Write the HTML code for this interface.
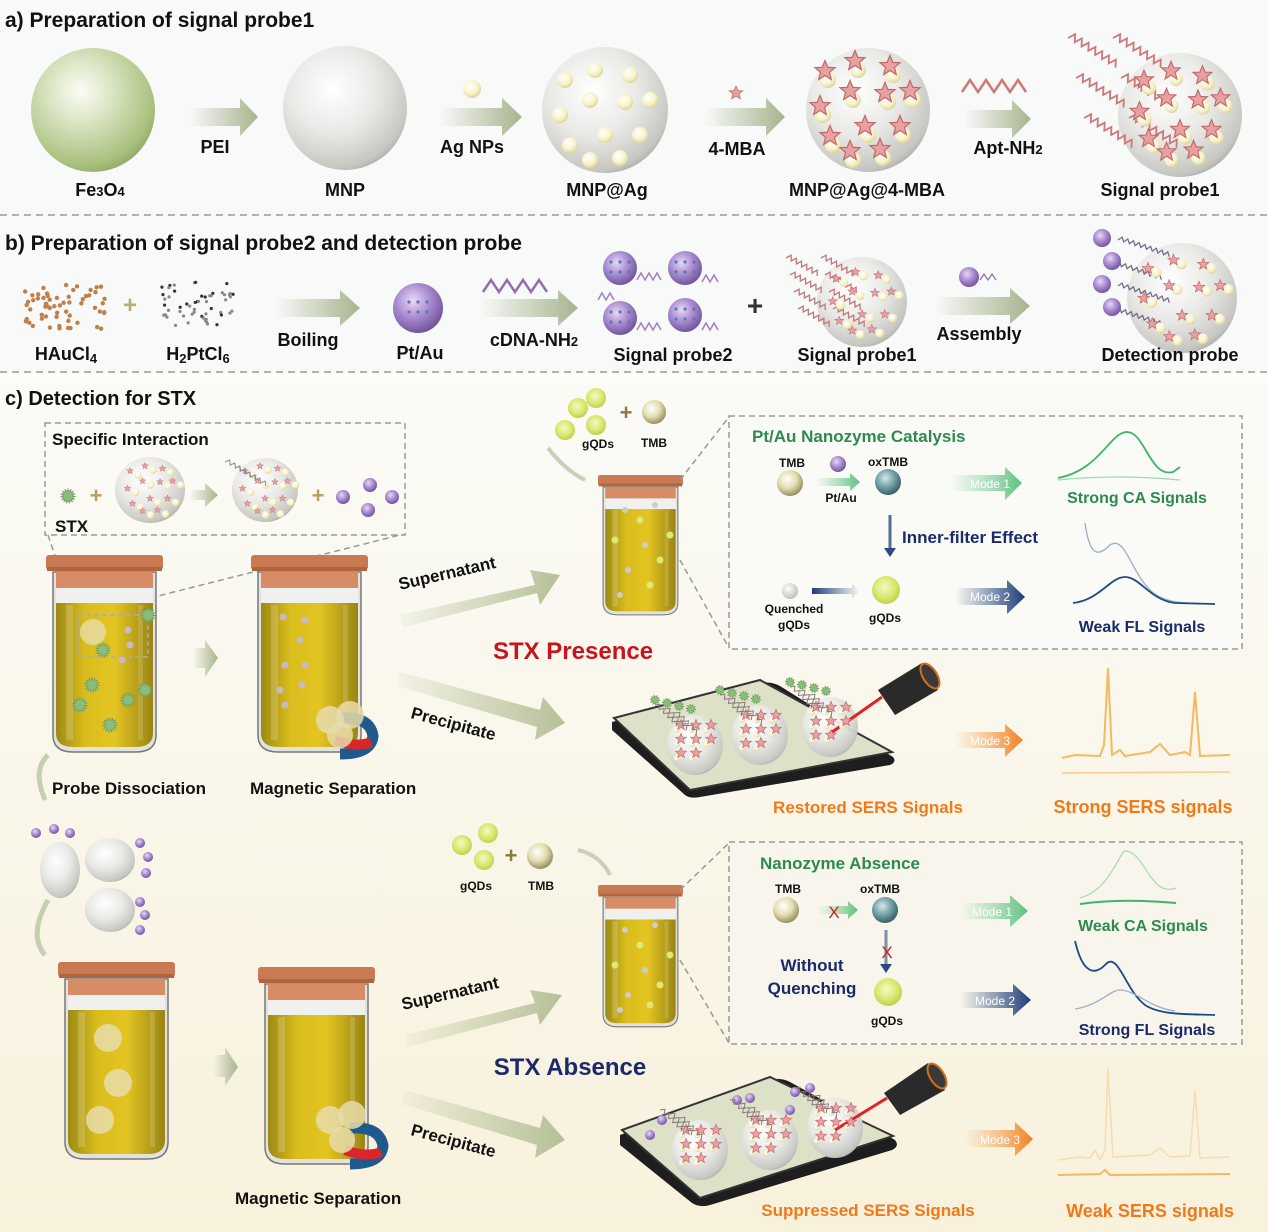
<!DOCTYPE html>
<html><head><meta charset="utf-8"><style>
html,body{margin:0;padding:0;background:#fff;}
svg{display:block;font-family:"Liberation Sans",Arial,sans-serif;font-weight:bold;}
</style></head><body>
<svg id="s" width="1268" height="1232" viewBox="0 0 1268 1232" xmlns="http://www.w3.org/2000/svg">
<defs>
<radialGradient id="gGreen" cx="0.4" cy="0.35" r="0.7"><stop offset="0" stop-color="#fbfdf5"/><stop offset="0.35" stop-color="#dbe6c5"/><stop offset="0.85" stop-color="#a9c07e"/><stop offset="1" stop-color="#8ca862"/></radialGradient>
<radialGradient id="gWhite" cx="0.4" cy="0.35" r="0.7"><stop offset="0" stop-color="#ffffff"/><stop offset="0.5" stop-color="#e9e9e6"/><stop offset="0.9" stop-color="#c7c7c2"/><stop offset="1" stop-color="#aaa"/></radialGradient>
<radialGradient id="gPurple" cx="0.4" cy="0.35" r="0.7"><stop offset="0" stop-color="#e8d8f5"/><stop offset="0.5" stop-color="#a88ad0"/><stop offset="1" stop-color="#6a4e96"/></radialGradient>
<radialGradient id="gDot" cx="0.4" cy="0.35" r="0.7"><stop offset="0" stop-color="#ffffff"/><stop offset="0.6" stop-color="#f8f2c8"/><stop offset="1" stop-color="#d8cf96"/></radialGradient>
<radialGradient id="gQD" cx="0.45" cy="0.4" r="0.6"><stop offset="0" stop-color="#f4f9c0"/><stop offset="0.6" stop-color="#dbe873"/><stop offset="1" stop-color="#c0d04c"/></radialGradient>
<radialGradient id="gTMB" cx="0.4" cy="0.35" r="0.7"><stop offset="0" stop-color="#ffffff"/><stop offset="0.5" stop-color="#e4deb0"/><stop offset="1" stop-color="#8a8456"/></radialGradient>
<radialGradient id="gOx" cx="0.4" cy="0.35" r="0.7"><stop offset="0" stop-color="#d8e8ea"/><stop offset="0.5" stop-color="#74a0a8"/><stop offset="1" stop-color="#2f5860"/></radialGradient>
<radialGradient id="gGray" cx="0.4" cy="0.35" r="0.7"><stop offset="0" stop-color="#fff"/><stop offset="1" stop-color="#bbb"/></radialGradient>
<linearGradient id="gLiq" x1="0" x2="1"><stop offset="0" stop-color="#9c8a14"/><stop offset="0.3" stop-color="#d9bd1d"/><stop offset="0.6" stop-color="#e3c522"/><stop offset="1" stop-color="#9a8514"/></linearGradient>
<linearGradient id="gArr" x1="0" x2="1"><stop offset="0" stop-color="#a7b48e" stop-opacity="0"/><stop offset="1" stop-color="#a7b48e"/></linearGradient>
<linearGradient id="gArrBig" x1="0" x2="1"><stop offset="0" stop-color="#b9c39c" stop-opacity="0.1"/><stop offset="1" stop-color="#b5c097"/></linearGradient>
<linearGradient id="gM1" x1="0" x2="1"><stop offset="0" stop-color="#7fd29a" stop-opacity="0"/><stop offset="1" stop-color="#5fc080"/></linearGradient>
<linearGradient id="gM2" x1="0" x2="1"><stop offset="0" stop-color="#2a4a80" stop-opacity="0"/><stop offset="1" stop-color="#1f3c78"/></linearGradient>
<linearGradient id="gM3" x1="0" x2="1"><stop offset="0" stop-color="#f8a050" stop-opacity="0"/><stop offset="1" stop-color="#f08020"/></linearGradient>
<linearGradient id="gBg" x1="0" y1="0" x2="0" y2="1"><stop offset="0" stop-color="#fbfbf7"/><stop offset="1" stop-color="#f8f1dc"/></linearGradient>
<g id="star"><path d="M0,-7 L1.9,-2.4 L6.7,-2.2 L3,0.9 L4.2,5.7 L0,3 L-4.2,5.7 L-3,0.9 L-6.7,-2.2 L-1.9,-2.4Z" fill="#e8a0a0" stroke="#c06868" stroke-width="0.8"/></g>
<g id="jar">
<path d="M7 17 L7 180 Q7 197 27 197 L90 197 Q110 197 110 180 L110 17 Z" fill="#e2e2de" stroke="#777" stroke-width="1.5"/>
<rect x="10" y="17" width="97" height="16" fill="#d88c66"/>
<rect x="10" y="33" width="97" height="15" fill="#f0f0ee"/>
<path d="M10 48 L107 48 L107 178 Q107 192 90 192 L27 192 Q10 192 10 178 Z" fill="url(#gLiq)"/>
<rect x="20" y="50" width="7" height="135" fill="#fff" opacity="0.18"/>
<rect x="92" y="50" width="5" height="135" fill="#fff" opacity="0.15"/>
<rect x="0" y="0" width="117" height="15" rx="3" fill="#c97a52"/>
<rect x="1" y="12" width="115" height="4" fill="#b06440"/>
</g>
<g id="magnet"><path d="M-5 0 Q25 -2 28 18 Q26 36 -5 36" fill="none" stroke="#1e5a8e" stroke-width="11"/><path d="M-10 22 Q12 30 26 24" fill="none" stroke="#d8262a" stroke-width="10"/></g>
</defs>

<rect x="0" y="0" width="1268" height="372" fill="#f8f9f9"/>
<rect x="0" y="372" width="1268" height="860" fill="url(#gBg)"/>
<line x1="0" y1="215" x2="1268" y2="215" stroke="#999" stroke-width="1.5" stroke-dasharray="7,5"/>
<line x1="0" y1="372" x2="1268" y2="372" stroke="#999" stroke-width="1.5" stroke-dasharray="7,5"/>

<!-- Section a -->
<text x="5" y="27" font-size="21" fill="#111">a) Preparation of signal probe1</text>
<ellipse cx="93" cy="110" rx="62" ry="62" fill="url(#gGreen)"/>
<ellipse cx="345" cy="108" rx="62" ry="62" fill="url(#gWhite)"/>
<ellipse cx="605" cy="110" rx="63" ry="63" fill="url(#gWhite)"/>
<ellipse cx="868" cy="110" rx="62" ry="62" fill="url(#gWhite)"/>
<ellipse cx="1180" cy="115" rx="62" ry="62" fill="url(#gWhite)"/>
<g>
<path d="M190 108 L240 108 L240 98 L258 117 L240 136 L240 126 L190 126Z" fill="url(#gArr)"/>
<path d="M440 108 L502 108 L502 98 L522 117 L502 136 L502 126 L440 126Z" fill="url(#gArr)"/>
<path d="M705 108 L766 108 L766 98 L785 117 L766 136 L766 126 L705 126Z" fill="url(#gArr)"/>
<path d="M965 110 L1012 110 L1012 100 L1031 119 L1012 138 L1012 128 L965 128Z" fill="url(#gArr)"/>
</g>
<circle cx="472" cy="89" r="9" fill="url(#gDot)"/>
<use href="#star" x="736" y="93"/>
<path d="M962 92 l8 -12 l8 12 l8 -12 l8 12 l8 -12 l8 12 l8 -12 l8 12" fill="none" stroke="#d07878" stroke-width="2.5"/>
<g font-size="18" fill="#111" text-anchor="middle">
<text x="215" y="153">PEI</text><text x="472" y="153">Ag NPs</text><text x="737" y="155">4-MBA</text><text x="1008" y="154">Apt-NH<tspan font-size="13">2</tspan></text>
<text x="100" y="196">Fe<tspan font-size="13">3</tspan>O<tspan font-size="13">4</tspan></text><text x="345" y="196">MNP</text><text x="607" y="196">MNP@Ag</text><text x="867" y="196">MNP@Ag@4-MBA</text><text x="1160" y="196">Signal probe1</text>
</g>

<!-- Section b -->
<text x="5" y="250" font-size="21" fill="#111">b) Preparation of signal probe2 and detection probe</text>
<text x="130" y="313" font-size="24" fill="#b5b07a" text-anchor="middle">+</text>
<path d="M275 299 L340 299 L340 290 L360 308 L340 326 L340 317 L275 317Z" fill="url(#gArr)"/>
<circle cx="418" cy="308" r="25" fill="url(#gPurple)"/>
<path d="M483 292 l8 -12 l8 12 l8 -12 l8 12 l8 -12 l8 12 l8 -12 l8 12" fill="none" stroke="#9070b0" stroke-width="2.5"/>
<path d="M480 299 L558 299 L558 290 L578 308 L558 326 L558 317 L480 317Z" fill="url(#gArr)"/>
<circle cx="620" cy="268" r="17" fill="url(#gPurple)"/><circle cx="685" cy="268" r="17" fill="url(#gPurple)"/>
<circle cx="620" cy="318" r="17" fill="url(#gPurple)"/><circle cx="685" cy="315" r="17" fill="url(#gPurple)"/>
<g fill="none" stroke="#a080c0" stroke-width="1.5">
<path d="M637 280 l4 -7 l4 7 l4 -7 l4 7 l4 -7 l4 7"/><path d="M702 282 l4 -7 l4 7 l4 -7 l4 7"/><path d="M637 330 l4 -7 l4 7 l4 -7 l4 7 l4 -7 l4 7"/><path d="M702 330 l4 -7 l4 7 l4 -7 l4 7"/><path d="M598 300 l4 -7 l4 7 l4 -7 l4 7"/>
</g>
<text x="755" y="315" font-size="28" fill="#333" text-anchor="middle">+</text>
<ellipse cx="862" cy="302" rx="45" ry="45" fill="url(#gWhite)"/>
<circle cx="969" cy="277" r="10" fill="url(#gPurple)"/>
<path d="M980 280 l4 -6 l4 6 l4 -6 l4 6" fill="none" stroke="#9070b0" stroke-width="1.3"/>
<path d="M935 297 L1010 297 L1010 288 L1030 306 L1010 324 L1010 315 L935 315Z" fill="url(#gArr)"/>
<ellipse cx="1182" cy="298" rx="55" ry="55" fill="url(#gWhite)"/>
<g font-size="18" fill="#111" text-anchor="middle">
<text x="66" y="360">HAuCl<tspan font-size="13" dy="3">4</tspan></text>
<text x="198" y="360">H<tspan font-size="13" dy="3">2</tspan><tspan dy="-3">PtCl</tspan><tspan font-size="13" dy="3">6</tspan></text>
<text x="308" y="346">Boiling</text><text x="420" y="359">Pt/Au</text><text x="534" y="346">cDNA-NH<tspan font-size="13">2</tspan></text>
<text x="673" y="361">Signal probe2</text><text x="857" y="361">Signal probe1</text><text x="979" y="340">Assembly</text><text x="1170" y="361">Detection probe</text>
</g>

<!-- Section c -->
<text x="5" y="405" font-size="20" fill="#111">c) Detection for STX</text>
<rect x="45" y="423" width="360" height="112" fill="none" stroke="#999" stroke-width="1.5" stroke-dasharray="6,4"/>
<text x="52" y="445" font-size="17" fill="#111">Specific Interaction</text>
<text x="55" y="532" font-size="17" fill="#111">STX</text>
<text x="96" y="503" font-size="22" fill="#b5a060" text-anchor="middle">+</text>
<ellipse cx="150" cy="490" rx="35" ry="33" fill="url(#gWhite)"/>
<path d="M190 490 L205 490 L205 483 L218 495 L205 507 L205 500 L190 500Z" fill="url(#gArr)"/>
<ellipse cx="265" cy="490" rx="33" ry="32" fill="url(#gWhite)"/>
<text x="318" y="503" font-size="22" fill="#b5a060" text-anchor="middle">+</text>
<circle cx="343" cy="497" r="7" fill="url(#gPurple)"/><circle cx="370" cy="485" r="7" fill="url(#gPurple)"/><circle cx="368" cy="510" r="7" fill="url(#gPurple)"/><circle cx="392" cy="497" r="7" fill="url(#gPurple)"/>
<line x1="150" y1="598" x2="400" y2="535" stroke="#999" stroke-width="1.5" stroke-dasharray="6,4"/>
<line x1="48" y1="535" x2="75" y2="615" stroke="#999" stroke-width="1.5" stroke-dasharray="6,4"/>

<!-- jars -->
<use href="#jar" x="46" y="555"/>
<use href="#jar" x="251" y="555"/>
<rect x="78" y="615" width="70" height="42" fill="none" stroke="#aab" stroke-width="1.5" stroke-dasharray="5,3"/>
<circle cx="93" cy="632" r="13" fill="#e8dcaa" opacity="0.8"/>
<use href="#magnet" x="345" y="718"/>
<circle cx="330" cy="720" r="14" fill="#e8dcaa" opacity="0.85"/><circle cx="350" cy="715" r="14" fill="#e8dcaa" opacity="0.85"/><circle cx="340" cy="735" r="13" fill="#e8dcaa" opacity="0.85"/>
<path d="M193 648 L205 648 L205 640 L218 658 L205 677 L205 668 L193 668Z" fill="url(#gArr)"/>
<path d="M45 800 Q32 770 48 755" fill="none" stroke="#c5d0b0" stroke-width="5"/>
<text x="52" y="794" font-size="17" fill="#111">Probe Dissociation</text>
<text x="250" y="794" font-size="17" fill="#111">Magnetic Separation</text>

<path d="M400 615 L535 585 L530 570 L560 575 L540 605 L537 593 L403 627Z" fill="url(#gArrBig)"/>
<text x="400" y="590" font-size="17" fill="#111" transform="rotate(-13 400 590)">Supernatant</text>
<path d="M400 672 L540 710 L543 697 L565 723 L535 740 L537 727 L397 686Z" fill="url(#gArrBig)"/>
<text x="410" y="718" font-size="17" fill="#111" transform="rotate(15 410 718)">Precipitate</text>
<text x="573" y="659" font-size="24" fill="#c8141e" text-anchor="middle">STX Presence</text>

<circle cx="578" cy="408" r="10" fill="url(#gQD)"/><circle cx="596" cy="398" r="10" fill="url(#gQD)"/><circle cx="565" cy="430" r="10" fill="url(#gQD)"/><circle cx="596" cy="425" r="10" fill="url(#gQD)"/>
<text x="626" y="420" font-size="22" fill="#8a7a40" text-anchor="middle">+</text>
<circle cx="654" cy="412" r="12" fill="url(#gTMB)"/>
<text x="598" y="448" font-size="12" fill="#111" text-anchor="middle">gQDs</text><text x="654" y="447" font-size="12" fill="#111" text-anchor="middle">TMB</text>
<path d="M548 448 Q565 470 585 480" fill="none" stroke="#c8d0b8" stroke-width="4"/>
<use href="#jar" transform="translate(598 475) scale(0.726 0.71)"/>
<line x1="680" y1="480" x2="729" y2="417" stroke="#999" stroke-width="1.5" stroke-dasharray="6,4"/>
<line x1="680" y1="560" x2="729" y2="648" stroke="#999" stroke-width="1.5" stroke-dasharray="6,4"/>

<!-- Top panel -->
<rect x="729" y="416" width="513" height="233" fill="#fafaf6" stroke="#999" stroke-width="1.5" stroke-dasharray="6,4"/>
<text x="752" y="442" font-size="17" fill="#2e8a50">Pt/Au Nanozyme Catalysis</text>
<text x="792" y="467" font-size="12" fill="#111" text-anchor="middle">TMB</text>
<circle cx="790" cy="483" r="13" fill="url(#gTMB)"/>
<circle cx="838" cy="464" r="8" fill="url(#gPurple)"/>
<path d="M815 478 L850 478 L850 473 L860 482 L850 491 L850 486 L815 486Z" fill="url(#gM1)"/>
<text x="841" y="502" font-size="12" fill="#111" text-anchor="middle">Pt/Au</text>
<text x="888" y="466" font-size="12" fill="#111" text-anchor="middle">oxTMB</text>
<circle cx="888" cy="482" r="13" fill="url(#gOx)"/>
<line x1="890" y1="515" x2="890" y2="550" stroke="#2a4a80" stroke-width="3" opacity="0.8"/><path d="M884 548 L896 548 L890 557Z" fill="#2a4a80"/>
<text x="902" y="543" font-size="17" fill="#1a2a6a">Inner-filter Effect</text>
<circle cx="790" cy="591" r="8" fill="url(#gGray)"/>
<path d="M860 588 L820 588 L820 584 L812 591 L820 598 L820 594 L860 594Z" fill="url(#gM2)" transform="rotate(180 836 591)"/>
<text x="794" y="613" font-size="12" fill="#111" text-anchor="middle">Quenched</text><text x="794" y="629" font-size="12" fill="#111" text-anchor="middle">gQDs</text>
<circle cx="886" cy="590" r="14" fill="url(#gQD)"/>
<text x="885" y="622" font-size="12" fill="#111" text-anchor="middle">gQDs</text>
<path d="M950 475 L1005 475 L1005 467 L1022 483 L1005 500 L1005 491 L950 491Z" fill="url(#gM1)"/>
<text x="990" y="488" font-size="12" fill="#fff" font-weight="normal" text-anchor="middle">Mode 1</text>
<path d="M955 588 L1007 588 L1007 580 L1025 597 L1007 614 L1007 605 L955 605Z" fill="url(#gM2)"/>
<text x="990" y="601" font-size="12" fill="#fff" font-weight="normal" text-anchor="middle">Mode 2</text>
<path d="M1058 478 C1100 470 1110 432 1127 432 C1145 432 1150 478 1173 472 L1180 467" fill="none" stroke="#3cb46a" stroke-width="1.8"/>
<path d="M1058 480 Q1115 474 1180 480" fill="none" stroke="#9ed8b0" stroke-width="1.2"/>
<text x="1137" y="503" font-size="16" fill="#2e8a50" text-anchor="middle">Strong CA Signals</text>
<path d="M1085 523 C1090 560 1100 555 1110 545 C1125 535 1130 570 1150 590 C1165 605 1190 603 1215 604" fill="none" stroke="#9ab0c8" stroke-width="1.3"/>
<path d="M1073 603 C1100 600 1110 577 1125 577 C1140 577 1150 600 1175 603 L1215 604" fill="none" stroke="#1f4a88" stroke-width="1.8"/>
<text x="1142" y="632" font-size="16" fill="#1a2a6a" text-anchor="middle">Weak FL Signals</text>

<!-- slide top -->
<path d="M612 722 L760 683 Q770 681 780 686 L893 757 Q897 762 890 765 L700 797 Q690 799 685 795 L612 730 Z" fill="#1e1e1e"/>
<path d="M614 718 L760 680 L892 752 L690 790 Z" fill="#dde1c8" stroke="#333" stroke-width="2"/>
<ellipse cx="695" cy="745" rx="28" ry="30" fill="url(#gWhite)" opacity="0.95"/>
<ellipse cx="760" cy="735" rx="28" ry="30" fill="url(#gWhite)" opacity="0.95"/>
<ellipse cx="830" cy="727" rx="28" ry="30" fill="url(#gWhite)" opacity="0.95"/>
<line x1="828" y1="735" x2="882" y2="697" stroke="#e52020" stroke-width="3"/>
<path d="M878 690 L922 663 L938 690 L895 715Z" fill="#2a2a2a"/><ellipse cx="930" cy="676" rx="7" ry="14" transform="rotate(-32 930 676)" fill="#3a3a3a" stroke="#d07020" stroke-width="2"/>
<path d="M955 732 L1005 732 L1005 724 L1023 740 L1005 757 L1005 748 L955 748Z" fill="url(#gM3)"/>
<text x="990" y="745" font-size="12" fill="#fff" font-weight="normal" text-anchor="middle">Mode 3</text>
<path d="M1062 758 L1075 755 L1100 756 L1104 745 L1108 668 L1112 755 L1120 750 L1125 756 L1150 752 L1160 744 L1170 755 L1185 752 L1190 755 L1195 692 L1200 756 L1230 755" fill="none" stroke="#f6b860" stroke-width="2"/>
<path d="M1062 773 L1230 772" fill="none" stroke="#f8cc90" stroke-width="1.5"/>
<text x="868" y="813" font-size="17" fill="#f07a1a" text-anchor="middle">Restored SERS Signals</text>
<text x="1143" y="813" font-size="18" fill="#f07a1a" text-anchor="middle">Strong SERS signals</text>

<!-- bottom left cluster -->
<ellipse cx="60" cy="870" rx="20" ry="28" fill="url(#gWhite)"/>
<ellipse cx="110" cy="860" rx="25" ry="22" fill="url(#gWhite)"/>
<ellipse cx="110" cy="910" rx="25" ry="22" fill="url(#gWhite)"/>
<g fill="url(#gPurple)"><circle cx="36" cy="833" r="5"/><circle cx="54" cy="829" r="5"/><circle cx="70" cy="833" r="5"/><circle cx="140" cy="843" r="5"/><circle cx="148" cy="857" r="5"/><circle cx="146" cy="873" r="5"/><circle cx="140" cy="902" r="5"/><circle cx="145" cy="915" r="5"/><circle cx="140" cy="930" r="5"/></g>
<path d="M48 900 Q28 935 45 955" fill="none" stroke="#c5d0b0" stroke-width="5"/>
<use href="#jar" x="58" y="962"/>
<use href="#jar" x="258" y="967"/>
<circle cx="108" cy="1038" r="14" fill="#e8dcaa" opacity="0.85"/><circle cx="118" cy="1083" r="14" fill="#e8dcaa" opacity="0.85"/><circle cx="100" cy="1120" r="14" fill="#e8dcaa" opacity="0.85"/>
<use href="#magnet" x="355" y="1128"/>
<circle cx="330" cy="1120" r="14" fill="#e8dcaa" opacity="0.85"/><circle cx="352" cy="1115" r="14" fill="#e8dcaa" opacity="0.85"/><circle cx="342" cy="1140" r="13" fill="#e8dcaa" opacity="0.85"/>
<path d="M213 1055 L225 1055 L225 1047 L238 1067 L225 1086 L225 1077 L213 1077Z" fill="url(#gArr)"/>
<text x="235" y="1204" font-size="17" fill="#111">Magnetic Separation</text>
<path d="M405 1035 L535 1003 L530 990 L562 995 L540 1025 L537 1013 L408 1047Z" fill="url(#gArrBig)"/>
<text x="403" y="1010" font-size="17" fill="#111" transform="rotate(-13 403 1010)">Supernatant</text>
<path d="M405 1090 L540 1128 L543 1115 L565 1140 L535 1158 L537 1145 L402 1104Z" fill="url(#gArrBig)"/>
<text x="410" y="1135" font-size="17" fill="#111" transform="rotate(15 410 1135)">Precipitate</text>
<text x="570" y="1075" font-size="24" fill="#1a2a6a" text-anchor="middle">STX Absence</text>

<circle cx="462" cy="845" r="10" fill="url(#gQD)"/><circle cx="488" cy="833" r="10" fill="url(#gQD)"/><circle cx="484" cy="860" r="10" fill="url(#gQD)"/>
<text x="511" y="863" font-size="22" fill="#8a7a40" text-anchor="middle">+</text>
<circle cx="540" cy="856" r="13" fill="url(#gTMB)"/>
<text x="476" y="890" font-size="12" fill="#111" text-anchor="middle">gQDs</text><text x="541" y="890" font-size="12" fill="#111" text-anchor="middle">TMB</text>
<path d="M578 850 Q600 855 610 875" fill="none" stroke="#c8d0b8" stroke-width="4"/>
<use href="#jar" transform="translate(598 885) scale(0.726 0.72)"/>
<line x1="680" y1="890" x2="729" y2="843" stroke="#999" stroke-width="1.5" stroke-dasharray="6,4"/>
<line x1="680" y1="960" x2="729" y2="1043" stroke="#999" stroke-width="1.5" stroke-dasharray="6,4"/>

<!-- bottom panel -->
<rect x="729" y="842" width="513" height="202" fill="#f8f6ec" stroke="#999" stroke-width="1.5" stroke-dasharray="6,4"/>
<text x="760" y="869" font-size="17" fill="#2e8a50">Nanozyme Absence</text>
<text x="788" y="893" font-size="12" fill="#111" text-anchor="middle">TMB</text>
<circle cx="786" cy="910" r="13" fill="url(#gTMB)"/>
<path d="M818 906 L848 906 L848 901 L858 910 L848 919 L848 914 L818 914Z" fill="url(#gM1)"/>
<text x="834" y="918" font-size="17" fill="#d02020" text-anchor="middle" font-weight="normal">X</text>
<text x="880" y="893" font-size="12" fill="#111" text-anchor="middle">oxTMB</text>
<circle cx="885" cy="910" r="13" fill="url(#gOx)"/>
<line x1="886" y1="930" x2="886" y2="966" stroke="#2a4a80" stroke-width="3" opacity="0.6"/><path d="M880 964 L892 964 L886 973Z" fill="#2a4a80"/>
<text x="887" y="958" font-size="17" fill="#d02020" text-anchor="middle" font-weight="normal">X</text>
<text x="812" y="971" font-size="17" fill="#1a2a6a" text-anchor="middle">Without</text>
<text x="812" y="994" font-size="17" fill="#1a2a6a" text-anchor="middle">Quenching</text>
<circle cx="888" cy="992" r="14" fill="url(#gQD)"/>
<text x="887" y="1025" font-size="12" fill="#111" text-anchor="middle">gQDs</text>
<path d="M960 903 L1010 903 L1010 895 L1028 911 L1010 927 L1010 919 L960 919Z" fill="url(#gM1)"/>
<text x="992" y="916" font-size="12" fill="#fff" font-weight="normal" text-anchor="middle">Mode 1</text>
<path d="M960 992 L1013 992 L1013 984 L1031 1000 L1013 1016 L1013 1008 L960 1008Z" fill="url(#gM2)"/>
<text x="995" y="1005" font-size="12" fill="#fff" font-weight="normal" text-anchor="middle">Mode 2</text>
<path d="M1080 898 C1110 890 1120 851 1125 851 C1145 851 1150 898 1176 888" fill="none" stroke="#a8dcb8" stroke-width="1.3"/>
<path d="M1080 904 Q1120 898 1176 903" fill="none" stroke="#3cb46a" stroke-width="2"/>
<text x="1143" y="931" font-size="16" fill="#2e8a50" text-anchor="middle">Weak CA Signals</text>
<path d="M1075 941 C1083 975 1095 975 1105 965 C1118 950 1125 990 1145 1005 C1160 1015 1185 1014 1215 1015" fill="none" stroke="#1f4a88" stroke-width="1.8"/>
<path d="M1075 1009 C1100 1005 1110 990 1120 990 C1135 990 1150 1008 1175 1011" fill="none" stroke="#9ab0c8" stroke-width="1.3"/>
<text x="1147" y="1035" font-size="16" fill="#1a2a6a" text-anchor="middle">Strong FL Signals</text>

<!-- bottom slide -->
<path d="M620 1135 L770 1080 Q780 1077 790 1082 L895 1140 Q900 1146 892 1150 L710 1205 Q700 1208 692 1203 L620 1145 Z" fill="#1e1e1e"/>
<path d="M622 1130 L770 1077 L893 1136 L700 1198 Z" fill="#dde1c8" stroke="#333" stroke-width="2"/>
<ellipse cx="700" cy="1150" rx="28" ry="30" fill="url(#gWhite)"/>
<ellipse cx="770" cy="1140" rx="28" ry="30" fill="url(#gWhite)"/>
<ellipse cx="835" cy="1128" rx="28" ry="30" fill="url(#gWhite)"/>
<g fill="url(#gPurple)"><circle cx="650" cy="1135" r="5"/><circle cx="662" cy="1120" r="5"/><circle cx="737" cy="1100" r="5"/><circle cx="750" cy="1098" r="5"/><circle cx="795" cy="1092" r="5"/><circle cx="810" cy="1088" r="5"/><circle cx="790" cy="1110" r="5"/></g>
<line x1="835" y1="1130" x2="887" y2="1098" stroke="#e52020" stroke-width="3"/>
<path d="M884 1093 L928 1063 L945 1090 L900 1115Z" fill="#2a2a2a"/><ellipse cx="937" cy="1076" rx="7" ry="14" transform="rotate(-32 937 1076)" fill="#3a3a3a" stroke="#d07020" stroke-width="2"/>
<path d="M965 1130 L1015 1130 L1015 1122 L1033 1139 L1015 1156 L1015 1147 L965 1147Z" fill="url(#gM3)"/>
<text x="1000" y="1144" font-size="12" fill="#fff" font-weight="normal" text-anchor="middle">Mode 3</text>
<path d="M1058 1160 L1080 1157 L1090 1158 L1095 1150 L1100 1160 L1105 1150 L1108 1068 L1113 1157 L1150 1155 L1160 1148 L1170 1157 L1190 1156 L1195 1090 L1200 1158 L1230 1157" fill="none" stroke="#f8dcb0" stroke-width="1.5"/>
<path d="M1058 1175 L1100 1174 L1105 1170 L1110 1175 L1230 1174" fill="none" stroke="#f6b860" stroke-width="2"/>
<text x="868" y="1216" font-size="17" fill="#f07a1a" text-anchor="middle">Suppressed SERS Signals</text>
<text x="1150" y="1217" font-size="18" fill="#f07a1a" text-anchor="middle">Weak SERS signals</text>
<g id="deco"></g>
</svg>
<script>
(function(){
var NS="http://www.w3.org/2000/svg",d=document.getElementById("deco");
function el(t,a){var e=document.createElementNS(NS,t);for(var k in a)e.setAttribute(k,a[k]);d.appendChild(e);return e;}
function dot(x,y,r,f){el("circle",{cx:x,cy:y,r:r,fill:f||"url(#gDot)"});}
function star(x,y,s){el("use",{href:"#star",transform:"translate("+x+" "+y+") scale("+s+")"});}
function zig(x,y,n,c,w,a,step,ang){var p="M0 0";for(var i=0;i<n;i++)p+=" l"+step+" -"+a+" l"+step+" "+a;el("path",{d:p,fill:"none",stroke:c,"stroke-width":w,transform:"translate("+x+" "+y+") rotate("+ang+")"});}
var ag=[[-40,-30],[-10,-40],[25,-35],[-45,5],[-15,-10],[20,-8],[45,-10],[-35,35],[0,25],[35,25],[-15,50],[15,48]];
[[605,110],[868,110]].forEach(function(c,j){ag.forEach(function(o){dot(c[0]+o[0],c[1]+o[1],8);if(j==1)star(c[0]+o[0]-3,c[1]+o[1]-9,1.5);});});
/* signal probe1 (a) strands */
for(var r=0;r<3;r++)for(var k=0;k<2;k++){zig(1068+k*45+r*8,38+r*40,7,"#d07878",1.8,7,4,32);}
ag.forEach(function(o){dot(1180+o[0]*0.9+5,115+o[1]*0.9,7);star(1180+o[0]*0.9,115+o[1]*0.9-8,1.4);});
/* signal probe1 (b) */
for(var r=0;r<4;r++)for(var k=0;k<2;k++){zig(786+k*35+r*4,258+r*17,6,"#c07878",1.3,5,3,30);}
/* detection probe strands */
for(var i=0;i<4;i++){zig(1118-(i%2)*8,240+i*23,9,"#7a6a8a",1.3,4,3,18);dot(1110+(i%2)*10-8,238+i*23,9,"url(#gPurple)");}
[[862,302,0.65],[1182,298,0.85],[150,490,0.5],[265,490,0.5]].forEach(function(c){ag.forEach(function(o){dot(c[0]+o[0]*c[2]+8,c[1]+o[1]*c[2],4.5*c[2]+1.5);star(c[0]+o[0]*c[2],c[1]+o[1]*c[2]-4,c[2]);});});
for(var i=0;i<3;i++){zig(225+i*10,462+i*6,4,"#8a8a8a",1,4,3,30);}
for(var i=0;i<60;i++){var x=25+Math.random()*80,y=285+Math.random()*45;dot(x,y,2.2,"#c0804a");}
for(var i=0;i<55;i++){var x=160+Math.random()*75,y=282+Math.random()*45;dot(x,y,1.6,i%3?"#888":"#333");}
var sq=[[620,268],[685,268],[620,318],[685,315],[418,308]];sq.forEach(function(c){for(var k=0;k<6;k++)dot(c[0]-9+(k%3)*9,c[1]-6+Math.floor(k/3)*10,1.6,"#5a7ab0");});
[[68,496],[103,650],[92,685],[128,700],[80,705],[110,725],[145,690],[148,615]].forEach(function(c){el("circle",{cx:c[0],cy:c[1],r:6,fill:"#8cbc7c",stroke:"#6a9a5a","stroke-dasharray":"1,1.5","stroke-width":3});});
[[283,617],[305,620],[300,640],[285,665],[305,665],[280,690],[302,685],[285,705],[128,630],[130,645],[122,660]].forEach(function(c){dot(c[0],c[1],3.5,"#c8b8c8");});
[[625,510],[640,520],[655,505],[615,540],[645,545],[660,560],[628,570],[650,585],[620,595],[670,535]].forEach(function(c,i){dot(c[0],c[1],i%2?3.5:3,i%2?"#dfe870":"#ccc");});
[[625,930],[640,945],[655,925],[615,965],[645,970],[660,985],[628,995],[650,1005],[620,1010],[670,955]].forEach(function(c,i){dot(c[0],c[1],i%2?3.5:3,i%2?"#dfe870":"#ccc");});
[[695,745],[760,735],[830,727],[700,1150],[770,1140],[835,1128]].forEach(function(c,j){for(var k=0;k<8;k++){var x=c[0]-18+(k%3)*15,y=c[1]-15+Math.floor(k/3)*14;dot(x,y,3);star(x+4,y-5,0.8);}
for(var k=0;k<3;k++){zig(c[0]-40+k*10,c[1]-40+k*4,5,"#8a7a7a",1,4,3,45);}
if(j<3){for(var k=0;k<4;k++){var gx=c[0]-40+k*12,gy=c[1]-45+k*3;el("circle",{cx:gx,cy:gy,r:4,fill:"#8cbc7c",stroke:"#6a9a5a","stroke-dasharray":"1,1.5","stroke-width":2});}}});
})();
</script>
</body></html>
